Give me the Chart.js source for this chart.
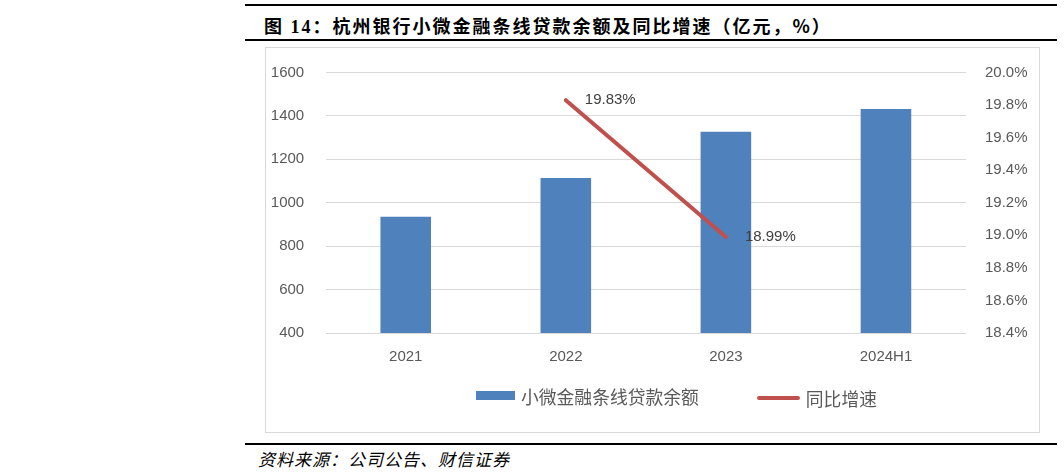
<!DOCTYPE html>
<html>
<head>
<meta charset="utf-8">
<script src="https://cdn.jsdelivr.net/npm/chart.js@4"></script>
<style>
  body { margin: 0; width: 1064px; height: 473px; background: #fff; position: relative; overflow: hidden; }
  .rule { position: absolute; left: 245px; width: 812px; background: #000; }
  #title { position: absolute; left: 264px; top: 12px; font: bold 18px "Liberation Serif", "Noto Sans CJK SC", serif; letter-spacing: 2px; color: #000; white-space: nowrap; }
  #title span { font-family: "Noto Sans CJK SC", sans-serif; }
  #frame { position: absolute; left: 265px; top: 47px; width: 775px; height: 386px; box-sizing: border-box; border: 1px solid #d9d9d9; }
  #wrap { position: absolute; left: 265px; top: 41.7px; width: 775px; height: 391.3px; }
  #legend { position: absolute; top: 379px; left: 476px; font: 17.8px "Noto Sans CJK SC", sans-serif; color: #595959; white-space: nowrap; }
  #legend .item { display: inline-flex; align-items: center; margin-right: 58px; }
  #legend .swatch { display: inline-block; margin-right: 6px; }
  #source { position: absolute; left: 258px; top: 446px; font: italic 17px "Noto Sans CJK SC", sans-serif; letter-spacing: 1px; color: #000; white-space: nowrap; }
</style>
</head>
<body>
<div class="rule" style="top:4px;height:2px"></div>
<div id="title">图 14<span>：杭州银行小微金融条线贷款余额及同比增速（亿元，%）</span></div>
<div class="rule" style="top:39px;height:2px"></div>
<div id="frame"></div>
<div id="wrap"><canvas id="chart"></canvas></div>
<div id="legend"></div>
<div class="rule" style="top:443px;height:2px"></div>
<div id="source">资料来源：公司公告、财信证券</div>
<script>
let categories = ['2021', '2022', '2023', '2024H1'];
let loanBalance = [935, 1114, 1327, 1432];
let yoyGrowth = [null, 19.83, 18.99, null];
let leftTicks = [400, 1600, 200];
let rightTicks = [18.4, 20.0, 0.2];

let barName = '小微金融条线贷款余额';
let lineName = '同比增速';
let barColor = '#4f81bd';
let lineColor = '#c0504d';

// legend in html
document.getElementById('legend').innerHTML =
  '<span class="item"><span class="swatch" style="width:39px;height:9px;background:' + barColor + '"></span>' + barName + '</span>' +
  '<span class="item"><span class="swatch" style="width:43px;height:4px;border-radius:2px;background:' + lineColor + '"></span>' + lineName + '</span>';

// value labels on the line
let lineLabels = {
  id: 'lineLabels',
  afterDatasetsDraw(chart) {
    let meta = chart.getDatasetMeta(1);
    let ctx = chart.ctx;
    ctx.save();
    ctx.font = '15px "Liberation Sans", Arial, sans-serif';
    ctx.fillStyle = '#404040';
    ctx.textAlign = 'left';
    ctx.textBaseline = 'middle';
    meta.data.forEach((pt, i) => {
      let v = yoyGrowth[i];
      if (v == null) return;
      ctx.fillText(v.toFixed(2) + '%', pt.x + 19, pt.y);
    });
    ctx.restore();
  }
};

let tickFont = { family: '"Liberation Sans", Arial, sans-serif', size: 15 };

let chart = new Chart(document.getElementById('chart').getContext('2d'), {
  data: {
    labels: categories,
    datasets: [{
      type: 'bar',
      label: barName,
      data: loanBalance,
      backgroundColor: barColor,
      borderWidth: 0,
      categoryPercentage: 1,
      barPercentage: 0.316,
      yAxisID: 'y',
      order: 2
    }, {
      type: 'line',
      label: lineName,
      data: yoyGrowth,
      borderColor: lineColor,
      borderWidth: 4,
      borderCapStyle: 'round',
      pointRadius: 0,
      spanGaps: false,
      yAxisID: 'y1',
      order: 1
    }]
  },
  options: {
    responsive: true,
    maintainAspectRatio: false,
    animation: false,
    layout: { padding: { top: 19.4, left: 0, right: 0, bottom: 0 } },
    plugins: {
      legend: { display: false },
      tooltip: { enabled: false }
    },
    scales: {
      x: {
        grid: { display: false },
        border: { display: false },
        ticks: { color: '#595959', font: tickFont, padding: 7 },
        afterFit(s) { s.height = 100.3; }
      },
      y: {
        position: 'left',
        min: leftTicks[0],
        max: leftTicks[1],
        ticks: {
          stepSize: leftTicks[2],
          color: '#595959',
          font: tickFont,
          padding: 21.5,
          callback: v => String(v)
        },
        grid: { color: '#d9d9d9', lineWidth: 1, drawTicks: false },
        border: { display: false },
        afterFit(s) { s.width = 60.7; }
      },
      y1: {
        position: 'right',
        min: rightTicks[0],
        max: rightTicks[1],
        ticks: {
          stepSize: rightTicks[2],
          color: '#595959',
          font: tickFont,
          padding: 19,
          callback: v => v.toFixed(1) + '%'
        },
        grid: { display: false, drawTicks: false },
        border: { display: false },
        afterFit(s) { s.width = 74; }
      }
    }
  },
  plugins: [lineLabels]
});
</script>
</body>
</html>
